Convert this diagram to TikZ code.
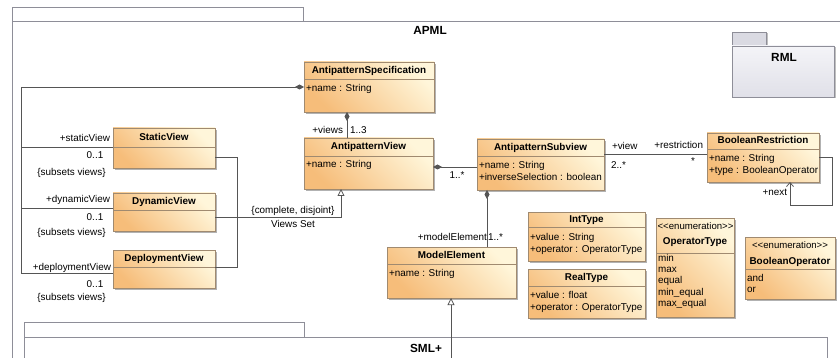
\documentclass[tikz,border=0pt]{standalone}
\usepackage{fontspec}
\setmainfont{Liberation Sans}
\usetikzlibrary{arrows.meta,shadows,fit}
\definecolor{clsdark}{HTML}{F6BD7A}
\definecolor{clslight}{HTML}{FFF6DA}
\definecolor{clsline}{HTML}{A08A70}
\definecolor{pkgline}{HTML}{8E8E98}
\definecolor{conncol}{HTML}{555555}
\definecolor{rmltop}{HTML}{F4F4F8}
\definecolor{rmlbot}{HTML}{E0E0E8}
\definecolor{rmltab}{HTML}{DADAE2}
\begin{document}
\begin{tikzpicture}[x=1pt,y=-1pt,
  every node/.style={inner sep=0pt,outer sep=0pt},
  cls/.style={draw=clsline,line width=0.6pt,top color=clslight,bottom color=clsdark,shading angle=-45,
    drop shadow={shadow xshift=1.6pt,shadow yshift=-1.6pt,fill=black,opacity=0.3}},
  divl/.style={draw=clsline,line width=0.6pt},
  ttl/.style={font=\bfseries\fontsize{9.9}{12}\selectfont,text height=7pt,text depth=2pt},
  attr/.style={font=\fontsize{9.9}{12}\selectfont,align=left,anchor=north west},
  lit/.style={font=\fontsize{9.9}{11.3}\selectfont,align=left,anchor=north west},
  stereo/.style={font=\fontsize{9.6}{12}\selectfont,text height=7pt,text depth=2pt},
  lbl/.style={font=\fontsize{9.9}{12}\selectfont,text height=7pt,text depth=2pt},
  pkgt/.style={font=\bfseries\fontsize{11.8}{14}\selectfont,text height=8.5pt,text depth=0pt},
  pkg/.style={draw=pkgline,line width=0.7pt},
  conn/.style={draw=conncol,line width=0.75pt},
  comp/.style={conn,{Diamond[length=9pt,width=5pt]}-},
  gen/.style={conn,-{Triangle[open,length=7pt,width=7pt,fill=white]}},
  nav/.style={conn,-{Straight Barb[length=4pt,width=7pt]}}
]
\useasboundingbox (0,0) rectangle (840,358);
\fill[white] (0,0) rectangle (840,358);

% ---------- APML package ----------
\draw[pkg] (12,21) -- (12,7) -- (303,7) -- (303,21);
\draw[pkg] (12,365) -- (12,21) -- (845,21);
\node[pkgt] (apmlT) at (430,30) {APML};

% ---------- RML package ----------
\node[pkg,fill=rmltab,fit={(732,32) (766,46)},drop shadow={shadow xshift=1.5pt,shadow yshift=-1.5pt,fill=black,opacity=0.25}] (rmltab) {};
\node[pkg,top color=rmltop,bottom color=rmlbot,fit={(732,46) (834,97)},drop shadow={shadow xshift=1.5pt,shadow yshift=-1.5pt,fill=black,opacity=0.25}] (rml) {};
\node[pkgt] (rmlT) at (784,57) {RML};

% ---------- SML+ package ----------
\draw[pkg] (24,337) -- (24,322) -- (304,322) -- (304,337);
\draw[pkg] (24,365) -- (24,337) -- (827,337) -- (827,365);
\node[pkgt] (smlT) at (426,348) {SML+};

% ---------- classes ----------
% AntipatternSpecification
\node[cls,fit={(304,62) (434,112)}] (spec) {};
\draw[divl] (304,79) -- (434,79);
\node[ttl] (specT) at (369,71) {AntipatternSpecification};
\node[attr] (specA) at (306,84) {+name : String};

% AntipatternView
\node[cls,fit={(304,138) (433,189)}] (view) {};
\draw[divl] (304,156) -- (433,156);
\node[ttl] (viewT) at (368.5,147.5) {AntipatternView};
\node[attr] (viewA) at (306,160) {+name : String};

% AntipatternSubview
\node[cls,fit={(477,139) (604,190)}] (sub) {};
\draw[divl] (477,156) -- (604,156);
\node[ttl] (subT) at (540.5,148) {AntipatternSubview};
\node[attr] (subA) at (479,161) {+name : String\\+inverseSelection : boolean};

% BooleanRestriction
\node[cls,fit={(707,133) (819,182)}] (boolr) {};
\draw[divl] (707,149) -- (819,149);
\node[ttl] (boolrT) at (763,141.5) {BooleanRestriction};
\node[attr] (boolrA) at (709,154) {+name : String\\+type : BooleanOperator};

% StaticView
\node[cls,fit={(113,128) (215,168)}] (static) {};
\draw[divl] (113,147) -- (215,147);
\node[ttl] (staticT) at (164,138) {StaticView};

% DynamicView
\node[cls,fit={(113,193) (215,231)}] (dynamic) {};
\draw[divl] (113,210) -- (215,210);
\node[ttl] (dynamicT) at (164,202) {DynamicView};

% DeploymentView
\node[cls,fit={(113,250) (215,288)}] (deploy) {};
\draw[divl] (113,267) -- (215,267);
\node[ttl] (deployT) at (164,259) {DeploymentView};

% ModelElement
\node[cls,fit={(387,247) (516,298)}] (model) {};
\draw[divl] (387,264) -- (516,264);
\node[ttl] (modelT) at (451.5,256) {ModelElement};
\node[attr] (modelA) at (389,269) {+name : String};

% IntType
\node[cls,fit={(528,212) (645,261)}] (int) {};
\draw[divl] (528,227) -- (645,227);
\node[ttl] (intT) at (586.5,220) {IntType};
\node[attr] (intA) at (530,233) {+value : String\\+operator : OperatorType};

% RealType
\node[cls,fit={(528,269) (645,318)}] (real) {};
\draw[divl] (528,286) -- (645,286);
\node[ttl] (realT) at (586.5,278) {RealType};
\node[attr] (realA) at (530,291) {+value : float\\+operator : OperatorType};

% OperatorType
\node[cls,fit={(656,218) (734,317)}] (optype) {};
\draw[divl] (656,253) -- (734,253);
\node[stereo] (optypeS) at (695.5,227) {<\kern0pt<enumeration>\kern0pt>};
\node[ttl] (optypeT) at (695,242) {OperatorType};
\node[lit] (optypeA) at (658,254) {min\\max\\equal\\min\_equal\\max\_equal};

% BooleanOperator
\node[cls,fit={(745,237) (835,299)}] (boolop) {};
\draw[divl] (745,269) -- (835,269);
\node[stereo] (boolopS) at (790,246) {<\kern0pt<enumeration>\kern0pt>};
\node[ttl] (boolopT) at (790,262) {BooleanOperator};
\node[lit] (boolopA) at (747,274) {and\\or};

% ---------- connectors ----------
% composition bus on the left
\coordinate (busT) at (21,87);
\coordinate (busB) at (21,273);
\draw[comp] (spec.west |- busT) -- (busT) -- (busB) -- (deploy.west |- busB);
\draw[conn] (static.west |- 0,147) -- (busT |- 0,147);
\draw[conn] (dynamic.west |- 0,208) -- (busT |- 0,208);
\node[lbl,anchor=east] (l1) at (110,139) {+staticView};
\node[lbl] (l2) at (95,156) {0..1};
\node[lbl] (l3) at (71.5,173) {\{subsets views\}};
\node[lbl,anchor=east] (l4) at (110,200) {+dynamicView};
\node[lbl] (l5) at (95,218) {0..1};
\node[lbl] (l6) at (71.5,233) {\{subsets views\}};
\node[lbl,anchor=east] (l7) at (111,268) {+deploymentView};
\node[lbl] (l8) at (95,285) {0..1};
\node[lbl] (l9) at (71.5,298) {\{subsets views\}};

% generalization set
\coordinate (gsT) at (237,157);
\coordinate (gsB) at (237,267);
\coordinate (gsC) at (341,217);
\draw[conn] (static.east |- gsT) -- (gsT) -- (gsB) -- (deploy.east |- gsB);
\draw[gen] (dynamic.east |- gsC) -- (gsC) -- (view.south -| gsC);
\node[lbl] (gs1) at (293,211) {\{complete, disjoint\}};
\node[lbl] (gs2) at (293,225) {Views Set};

% spec - view
\coordinate (sv) at (347,0);
\draw[comp] (spec.south -| sv) -- (view.north -| sv);
\node[lbl,anchor=east] (l10) at (343,131) {+views};
\node[lbl,anchor=west] (l11) at (350,131) {1..3};

% view - subview
\coordinate (vs) at (0,167);
\draw[comp] (view.east |- vs) -- (sub.west |- vs);
\node[lbl] (l12) at (457,176) {1..*};

% subview - boolean restriction
\coordinate (sb) at (0,154);
\draw[conn] (sub.east |- sb) -- (boolr.west |- sb);
\node[lbl,anchor=west] (l13) at (612,147) {+view};
\node[lbl,anchor=west] (l14) at (611,166) {2..*};
\node[lbl,anchor=east] (l15) at (703,146) {+restriction};
\node[lbl] (l16) at (693,162) {*};

% self loop
\coordinate (lp1) at (832,157);
\coordinate (lp2) at (832,205);
\coordinate (lp3) at (790,205);
\draw[nav] (boolr.east |- lp1) -- (lp1) -- (lp2) -- (lp3) -- (boolr.south -| lp3);
\node[lbl,anchor=east] (l17) at (787,193) {+next};

% subview - model element
\coordinate (sm) at (487,0);
\draw[comp] (sub.south -| sm) -- (model.north -| sm);
\node[lbl,anchor=east] (l18) at (487,238) {+modelElement};
\node[lbl,anchor=west] (l19) at (488,238) {1..*};

% SML+ generalization
\coordinate (smlin) at (451,358);
\draw[gen] (smlin) -- (model.south -| smlin);
\end{tikzpicture}
\end{document}
